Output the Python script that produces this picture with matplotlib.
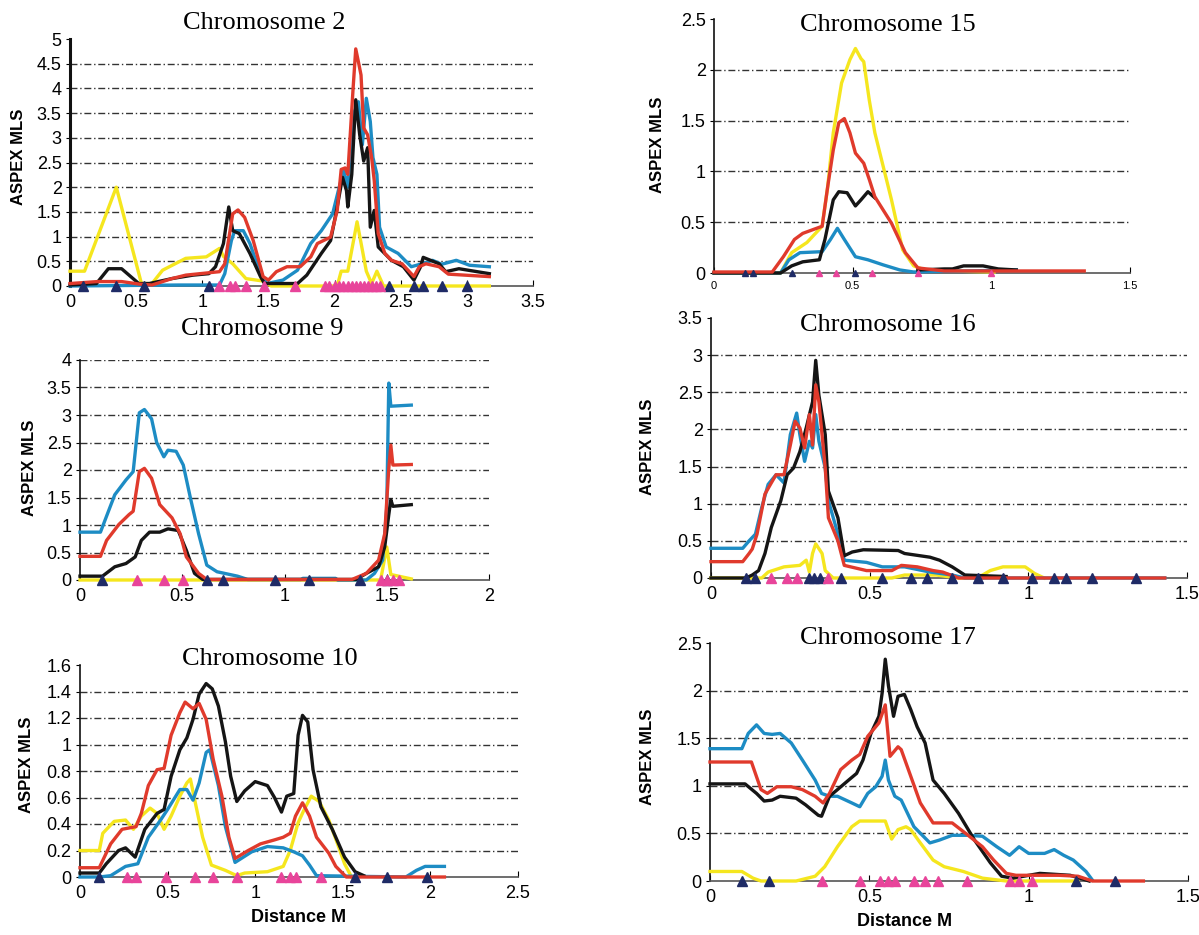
import numpy as np
from matplotlib import pyplot as plt
from matplotlib.ticker import FuncFormatter

W, H = 1199, 935

# curve colours
YEL = "#f5e61e"
BLK = "#151515"
RED = "#e03a2c"
BLU = "#1d8cc4"
NAVY = "#1f2b66"
PINK = "#e8449a"

# ---------------- Chromosome 2
c2_yel_x = [0, 0.11, 0.35, 0.54, 0.62, 0.70, 0.875, 1.03, 1.13, 1.16, 1.23, 1.33, 1.46, 1.52, 2.02, 2.05, 2.1, 2.17, 2.24, 2.28, 2.32, 2.37, 3.17]
c2_yel_y = [0.3, 0.3, 2.0, 0.05, 0.05, 0.32, 0.56, 0.59, 0.76, 0.6, 0.45, 0.15, 0.1, 0, 0, 0.3, 0.3, 1.3, 0.3, 0.05, 0.3, 0, 0]
c2_blu_x = [0, 0.82, 1.13, 1.17, 1.22, 1.245, 1.31, 1.36, 1.44, 1.49, 1.61, 1.72, 1.82, 1.9, 1.985, 2.035, 2.07, 2.10, 2.14, 2.18,
            2.21, 2.24, 2.27, 2.29, 2.32, 2.34, 2.39, 2.48, 2.58, 2.66, 2.74, 2.81, 2.92, 3.02, 3.17]
c2_blu_y = [0, 0.02, 0.02, 0.25, 0.92, 1.12, 1.12, 0.86, 0.25, 0.05, 0.12, 0.32, 0.86, 1.12, 1.46, 2.0, 2.33, 2.0, 3.46, 3.73,
            2.86, 3.8, 3.33, 2.6, 2.26, 1.19, 0.79, 0.66, 0.39, 0.45, 0.52, 0.44, 0.52, 0.42, 0.39]
c2_blk_x = [0, 0.2, 0.29, 0.39, 0.52, 0.6, 0.77, 0.93, 1.05, 1.10, 1.16, 1.20, 1.23, 1.28, 1.36, 1.44, 1.47, 1.72, 1.79, 1.9, 1.97,
            2.02, 2.06, 2.09, 2.10, 2.13, 2.16, 2.19, 2.22, 2.25, 2.27, 2.30, 2.33, 2.43, 2.52, 2.60, 2.65, 2.67, 2.79, 2.84, 2.94, 3.17]
c2_blk_y = [0.02, 0.05, 0.35, 0.35, 0.05, 0.05, 0.15, 0.22, 0.25, 0.39, 0.86, 1.6, 1.12, 1.06, 0.66, 0.19, 0.05, 0.05, 0.22, 0.66, 0.92,
            1.6, 2.2, 1.93, 1.6, 2.26, 3.77, 3.06, 2.53, 2.8, 1.19, 1.53, 0.79, 0.52, 0.39, 0.12, 0.39, 0.58, 0.45, 0.29, 0.35, 0.25]
c2_red_x = [0, 0.21, 0.39, 0.52, 0.62, 0.77, 0.875, 1.13, 1.17, 1.23, 1.27, 1.32, 1.385, 1.46, 1.5, 1.56, 1.64, 1.74, 1.82, 1.87,
            1.97, 2.02, 2.05, 2.08, 2.10, 2.14, 2.16, 2.18, 2.20, 2.22, 2.25, 2.28, 2.30, 2.33, 2.38, 2.43, 2.51, 2.60, 2.64, 2.69,
            2.79, 2.86, 3.17]
c2_red_y = [0.05, 0.09, 0.09, 0.04, 0.02, 0.15, 0.22, 0.29, 0.45, 1.46, 1.54, 1.39, 0.92, 0.19, 0.12, 0.29, 0.39, 0.39, 0.59, 0.86,
            0.99, 1.53, 2.36, 2.39, 2.26, 4.0, 4.8, 4.54, 4.27, 3.2, 3.06, 2.6, 2.13, 1.06, 0.66, 0.52, 0.45, 0.19, 0.39, 0.45,
            0.39, 0.24, 0.19]
c2_navy = [0.10, 0.35, 0.56, 1.05, 2.41, 2.60, 2.67, 2.81, 3.0]
c2_pink = [1.13, 1.21, 1.245, 1.33, 1.47, 1.70, 1.93, 1.96, 2.0, 2.03, 2.06, 2.1, 2.13, 2.16, 2.19, 2.22, 2.25, 2.28, 2.31, 2.34]

# ---------------- Chromosome 9
c9_yel_x = [0, 1.47, 1.50, 1.52, 1.62]
c9_yel_y = [0, 0, 0.6, 0.1, 0.02]
c9_blu_x = [0, 0.10, 0.17, 0.225, 0.26, 0.29, 0.315, 0.35, 0.375, 0.41, 0.43, 0.47, 0.505, 0.54, 0.58, 0.62, 0.67, 0.77, 0.82, 1.08,
            1.09, 1.25, 1.26, 1.40, 1.44, 1.48, 1.50, 1.51, 1.52, 1.62]
c9_blu_y = [0.87, 0.87, 1.55, 1.82, 1.97, 3.04, 3.1, 2.93, 2.5, 2.24, 2.36, 2.34, 2.09, 1.49, 0.84, 0.27, 0.15, 0.07, 0.01, 0.01,
            0.03, 0.03, 0.0, 0.0, 0.12, 0.36, 1.31, 3.58, 3.16, 3.18]
c9_blk_x = [0, 0.11, 0.17, 0.225, 0.27, 0.30, 0.34, 0.39, 0.43, 0.48, 0.52, 0.56, 0.60, 1.35, 1.40, 1.46, 1.49, 1.51, 1.52, 1.53, 1.62]
c9_blk_y = [0.07, 0.07, 0.24, 0.30, 0.42, 0.72, 0.87, 0.87, 0.93, 0.90, 0.54, 0.12, 0.01, 0.01, 0.12, 0.24, 0.6, 1.19, 1.46, 1.34, 1.37]
c9_red_x = [0, 0.10, 0.13, 0.19, 0.24, 0.26, 0.29, 0.315, 0.35, 0.39, 0.45, 0.49, 0.52, 0.58, 0.62, 1.33, 1.40, 1.46, 1.49, 1.51,
            1.52, 1.53, 1.62]
c9_red_y = [0.43, 0.43, 0.72, 1.01, 1.19, 1.25, 1.97, 2.03, 1.85, 1.37, 1.13, 0.84, 0.42, 0.12, 0.01, 0.01, 0.12, 0.36, 0.84, 2.03,
            2.45, 2.09, 2.1]
c9_navy = [0.11, 0.62, 0.70, 0.955, 1.12, 1.37, 1.50]
c9_pink = [0.28, 0.41, 0.505, 1.47, 1.5, 1.53, 1.56]

# ---------------- Chromosome 10
c10_yel_x = [0, 0.11, 0.13, 0.195, 0.26, 0.305, 0.35, 0.40, 0.44, 0.48, 0.52, 0.57, 0.61, 0.63, 0.655, 0.70, 0.75, 0.83, 0.895,
             0.94, 1.07, 1.16, 1.20, 1.245, 1.28, 1.32, 1.365, 1.42, 1.47, 1.51, 1.55]
c10_yel_y = [0.2, 0.2, 0.33, 0.42, 0.43, 0.36, 0.46, 0.52, 0.48, 0.36, 0.46, 0.61, 0.71, 0.74, 0.58, 0.30, 0.09, 0.05, 0.01,
             0.03, 0.04, 0.08, 0.2, 0.41, 0.51, 0.61, 0.57, 0.43, 0.25, 0.10, 0.0]
c10_blu_x = [0, 0.11, 0.175, 0.26, 0.33, 0.39, 0.46, 0.50, 0.57, 0.61, 0.645, 0.68, 0.72, 0.74, 0.79, 0.83, 0.885, 0.98, 1.07,
             1.16, 1.22, 1.27, 1.31, 1.35, 1.86, 1.92, 1.97, 2.08]
c10_blu_y = [0, 0, 0.01, 0.08, 0.10, 0.30, 0.43, 0.51, 0.66, 0.66, 0.58, 0.71, 0.94, 0.96, 0.69, 0.38, 0.11, 0.19, 0.23,
             0.22, 0.19, 0.16, 0.09, 0.01, 0.0, 0.05, 0.08, 0.08]
c10_blk_x = [0, 0.11, 0.15, 0.22, 0.26, 0.315, 0.37, 0.44, 0.48, 0.52, 0.57, 0.61, 0.645, 0.68, 0.72, 0.755, 0.79, 0.83, 0.86,
             0.895, 0.94, 1.0, 1.07, 1.11, 1.15, 1.18, 1.22, 1.245, 1.27, 1.30, 1.33, 1.375, 1.44, 1.51, 1.57, 1.62]
c10_blk_y = [0.03, 0.03, 0.10, 0.20, 0.22, 0.15, 0.36, 0.48, 0.51, 0.76, 0.96, 1.05, 1.19, 1.38, 1.46, 1.42, 1.29, 1.02, 0.76,
             0.57, 0.65, 0.72, 0.69, 0.60, 0.49, 0.61, 0.63, 1.07, 1.22, 1.17, 0.81, 0.53, 0.36, 0.15, 0.04, 0.01]
c10_red_x = [0, 0.11, 0.175, 0.24, 0.32, 0.35, 0.39, 0.44, 0.48, 0.52, 0.57, 0.60, 0.645, 0.68, 0.72, 0.76, 0.81, 0.85, 0.885,
             0.96, 1.03, 1.11, 1.16, 1.20, 1.23, 1.27, 1.31, 1.35, 1.42, 1.46, 1.52, 2.08]
c10_red_y = [0.07, 0.07, 0.25, 0.36, 0.38, 0.48, 0.69, 0.81, 0.82, 1.07, 1.24, 1.32, 1.27, 1.31, 1.19, 0.89, 0.61, 0.30, 0.14,
             0.20, 0.25, 0.28, 0.30, 0.33, 0.46, 0.56, 0.46, 0.30, 0.18, 0.08, 0.0, 0.0]
c10_navy = [0.11, 1.57, 1.75, 1.98]
c10_pink = [0.27, 0.32, 0.49, 0.655, 0.76, 0.895, 1.15, 1.20, 1.235, 1.375]

# ---------------- Chromosome 15
c15_yel_x = [0, 0.24, 0.28, 0.335, 0.39, 0.41, 0.43, 0.46, 0.49, 0.51, 0.53, 0.54, 0.56, 0.58, 0.61, 0.64, 0.68, 0.72, 0.76, 0.83, 1.01]
c15_yel_y = [0, 0, 0.2, 0.30, 0.46, 0.85, 1.38, 1.87, 2.10, 2.21, 2.11, 2.08, 1.70, 1.38, 1.05, 0.72, 0.23, 0.07, 0.03, 0.02, 0.01]
c15_blu_x = [0, 0.24, 0.27, 0.31, 0.39, 0.42, 0.445, 0.47, 0.51, 0.555, 0.61, 0.67, 0.72, 1.09]
c15_blu_y = [0, 0, 0.13, 0.20, 0.21, 0.33, 0.44, 0.33, 0.16, 0.13, 0.08, 0.03, 0.01, 0.03]
c15_blk_x = [0, 0.24, 0.28, 0.32, 0.38, 0.40, 0.43, 0.45, 0.48, 0.51, 0.53, 0.555, 0.58,
             np.nan, 0.735, 0.83, 0.86, 0.90, 0.97, 1.025, 1.09]
c15_blk_y = [0, 0, 0.07, 0.11, 0.13, 0.33, 0.72, 0.80, 0.79, 0.66, 0.72, 0.80, 0.74,
             np.nan, 0.03, 0.04, 0.04, 0.07, 0.07, 0.04, 0.03]
c15_red_x = [0, 0.21, 0.25, 0.29, 0.32, 0.36, 0.39, 0.41, 0.43, 0.45, 0.47, 0.49, 0.51, 0.54, 0.56, 0.58, 0.64, 0.69, 0.735, 0.83, 1.335]
c15_red_y = [0.01, 0.01, 0.16, 0.33, 0.39, 0.43, 0.46, 0.85, 1.21, 1.48, 1.52, 1.38, 1.18, 1.08, 0.92, 0.75, 0.49, 0.20, 0.05, 0.02, 0.02]
c15_navy = [0.11, 0.14, 0.28, 0.51]
c15_pink = [0.38, 0.44, 0.57, 0.735, 1.0]

# ---------------- Chromosome 16
c16_yel_x = [0, 0.16, 0.18, 0.23, 0.28, 0.30, 0.31, 0.32, 0.33, 0.35, 0.36, 0.385, 0.57, 0.61, 0.71, 0.78, 0.84, 0.88, 0.92, 0.99, 1.02, 1.05]
c16_yel_y = [0, 0, 0.08, 0.15, 0.17, 0.24, 0.08, 0.33, 0.46, 0.33, 0.10, 0.0, 0.0, 0.04, 0.04, 0.0, 0.0, 0.10, 0.15, 0.15, 0.06, 0.0]
c16_blu_x = [0, 0.10, 0.12, 0.14, 0.16, 0.18, 0.205, 0.23, 0.25, 0.27, 0.28, 0.295, 0.31, 0.32, 0.33, 0.34, 0.36, 0.37, 0.40,
             0.42, 0.49, 0.54, 0.61, 0.69, 0.76, 0.80, 1.43]
c16_blu_y = [0.4, 0.4, 0.50, 0.59, 0.95, 1.26, 1.39, 1.28, 1.93, 2.22, 1.93, 1.57, 1.84, 1.75, 2.2, 1.84, 1.48, 1.04, 0.59,
             0.24, 0.21, 0.15, 0.15, 0.08, 0.04, 0.0, 0.0]
c16_blk_x = [0, 0.11, 0.13, 0.15, 0.17, 0.19, 0.22, 0.24, 0.26, 0.28, 0.30, 0.32, 0.33, 0.34, 0.36, 0.37, 0.40, 0.42, 0.445,
             0.48, 0.59, 0.61, 0.69, 0.72, 0.76, 0.80, 0.93]
c16_blk_y = [0, 0, 0.04, 0.10, 0.33, 0.68, 1.04, 1.39, 1.48, 1.70, 2.02, 2.37, 2.93, 2.46, 1.93, 1.17, 0.81, 0.30, 0.35,
             0.38, 0.37, 0.33, 0.28, 0.24, 0.15, 0.04, 0.02]
c16_red_x = [0, 0.10, 0.12, 0.13, 0.145, 0.17, 0.19, 0.205, 0.23, 0.25, 0.265, 0.28, 0.295, 0.31, 0.32, 0.33, 0.34, 0.36, 0.37,
             0.40, 0.42, 0.49, 0.57, 0.60, 0.65, 0.70, 0.73, 0.78, 1.43]
c16_red_y = [0.22, 0.22, 0.33, 0.39, 0.59, 1.13, 1.28, 1.39, 1.39, 1.79, 2.11, 2.02, 1.75, 2.2, 1.79, 2.6, 2.37, 1.48, 0.81,
             0.50, 0.17, 0.10, 0.10, 0.17, 0.15, 0.10, 0.08, 0.0, 0.0]
c16_navy = [0.11, 0.14, 0.31, 0.325, 0.345, 0.41, 0.54, 0.63, 0.68, 0.76, 0.84, 0.92, 1.01, 1.08, 1.12, 1.20, 1.34]
c16_pink = [0.19, 0.24, 0.27, 0.37]

# ---------------- Chromosome 17
c17_yel_x = [0, 0.10, 0.135, 0.16, 0.27, 0.33, 0.36, 0.40, 0.445, 0.47, 0.55, 0.57, 0.59, 0.615, 0.63, 0.66, 0.70, 0.735, 0.795,
             0.855, 0.93, 1.155]
c17_yel_y = [0.1, 0.1, 0.03, 0.0, 0.0, 0.05, 0.15, 0.36, 0.57, 0.63, 0.63, 0.44, 0.54, 0.57, 0.54, 0.40, 0.22, 0.15, 0.10,
             0.03, 0.0, 0.0]
c17_blu_x = [0, 0.10, 0.12, 0.146, 0.17, 0.195, 0.22, 0.255, 0.29, 0.33, 0.35, 0.375, 0.40, 0.445, 0.47, 0.495, 0.52, 0.54, 0.55,
             0.56, 0.58, 0.60, 0.64, 0.69, 0.72, 0.76, 0.81, 0.855, 0.90, 0.94, 0.97, 1.0, 1.05, 1.08, 1.11, 1.14, 1.18, 1.20]
c17_blu_y = [1.39, 1.39, 1.55, 1.64, 1.55, 1.54, 1.55, 1.45, 1.27, 1.06, 0.92, 0.89, 0.89, 0.82, 0.78, 0.92, 0.99, 1.10, 1.27,
             1.06, 0.89, 0.85, 0.57, 0.40, 0.43, 0.48, 0.48, 0.47, 0.36, 0.27, 0.36, 0.29, 0.29, 0.33, 0.27, 0.22, 0.10, 0.01]
c17_blk_x = [0, 0.11, 0.146, 0.17, 0.195, 0.22, 0.27, 0.30, 0.34, 0.35, 0.375, 0.40, 0.435, 0.46, 0.48, 0.505, 0.53, 0.54, 0.55,
             0.56, 0.576, 0.59, 0.61, 0.63, 0.65, 0.675, 0.70, 0.735, 0.78, 0.83, 0.88, 0.915, 0.95, 1.035, 1.13, 1.19]
c17_blk_y = [1.02, 1.02, 0.92, 0.84, 0.85, 0.89, 0.87, 0.80, 0.69, 0.68, 0.89, 0.96, 1.06, 1.13, 1.27, 1.55, 1.73, 1.97, 2.33,
             2.05, 1.73, 1.94, 1.96, 1.80, 1.62, 1.45, 1.06, 0.92, 0.71, 0.43, 0.19, 0.05, 0.03, 0.08, 0.06, 0.0]
c17_red_x = [0, 0.13, 0.16, 0.18, 0.21, 0.255, 0.29, 0.33, 0.355, 0.375, 0.41, 0.445, 0.47, 0.495, 0.53, 0.55, 0.565, 0.59, 0.60,
             0.63, 0.66, 0.70, 0.76, 0.81, 0.855, 0.89, 0.93, 0.96, 1.095, 1.155, 1.20, 1.36]
c17_red_y = [1.25, 1.25, 0.96, 0.92, 0.99, 0.99, 0.96, 0.89, 0.82, 0.92, 1.17, 1.27, 1.33, 1.52, 1.66, 1.85, 1.31, 1.41, 1.38,
             1.10, 0.82, 0.61, 0.61, 0.48, 0.36, 0.22, 0.08, 0.06, 0.06, 0.05, 0.0, 0.0]
c17_navy = [0.10, 0.185, 1.15, 1.27]
c17_pink = [0.35, 0.47, 0.535, 0.56, 0.58, 0.64, 0.675, 0.715, 0.805, 0.94, 0.97, 1.01]

plt.rcParams["font.family"] = "Liberation Sans"

fig = plt.figure(figsize=(W / 100, H / 100), dpi=100)
fmt = FuncFormatter(lambda v, p: "%g" % v)


def panel(box, xmax, xstep, ymax, ystep, grid, curves, navy, pink, title, tpos, lpos,
          xlabel=None, xfs=13, msize=7, spw=1.2):
    # box = left, right, top, bottom in pixels
    l, r, t, b = box
    ax = fig.add_axes([l / W, 1 - b / H, (r - l) / W, (b - t) / H])
    ax.set_xlim(0, xmax)
    ax.set_ylim(0, ymax)
    ax.set_xticks(np.arange(0, xmax + 1e-9, xstep))
    ax.set_yticks(np.arange(0, ymax + 1e-9, ystep))
    ax.xaxis.set_major_formatter(fmt)
    ax.yaxis.set_major_formatter(fmt)
    for g in grid:
        ax.axhline(g, color="#333333", lw=1.0, ls=(0, (5, 2, 1, 2)), zorder=1)
    for xs, ys, c in curves:
        ax.plot(xs, ys, color=c, lw=2.4, zorder=3, clip_on=False)
    ax.plot(navy, [0] * len(navy), "^", color=NAVY, ms=msize, zorder=5, clip_on=False)
    ax.plot(pink, [0] * len(pink), "^", color=PINK, ms=msize, zorder=5, clip_on=False)
    for s in ["top", "right"]:
        ax.spines[s].set_visible(False)
    ax.spines["left"].set_linewidth(spw)
    ax.spines["left"].set_color("#111111")
    ax.spines["bottom"].set_color("#555555")
    ax.spines["bottom"].set_linewidth(1.2)
    ax.tick_params(axis="y", direction="out", length=3, labelsize=13, pad=3)
    ax.tick_params(axis="x", direction="in", length=4, labelsize=xfs, pad=6)
    fig.text(tpos[0] / W, 1 - tpos[1] / H, title, family="Liberation Serif", fontsize=19,
             ha="center", va="center")
    fig.text(lpos[0] / W, 1 - lpos[1] / H, "ASPEX MLS", fontsize=12, fontweight="bold",
             rotation=90, ha="center", va="center")
    if xlabel:
        fig.text(xlabel[0] / W, 1 - xlabel[1] / H, "Distance M", fontsize=13, fontweight="bold",
                 ha="center", va="center")
    return ax


panel((70, 533, 39, 286), 3.5, 0.5, 5, 0.5, [0.5, 1, 1.5, 2, 2.5, 3, 3.5, 4, 4.5],
      [(c2_yel_x, c2_yel_y, YEL), (c2_blu_x, c2_blu_y, BLU), (c2_blk_x, c2_blk_y, BLK), (c2_red_x, c2_red_y, RED)],
      c2_navy, c2_pink, "Chromosome 2", (264, 23), (19, 157), spw=2.2)

panel((80, 489, 360, 580), 2, 0.5, 4, 0.5, [0.5, 1, 1.5, 2, 2.5, 3, 3.5, 4],
      [(c9_yel_x, c9_yel_y, YEL), (c9_blu_x, c9_blu_y, BLU), (c9_blk_x, c9_blk_y, BLK), (c9_red_x, c9_red_y, RED)],
      c9_navy, c9_pink, "Chromosome 9", (262, 329), (29, 468))

panel((80, 518, 665, 877), 2.5, 0.5, 1.6, 0.2, [0.2, 0.4, 0.6, 0.8, 1.0, 1.2, 1.4],
      [(c10_yel_x, c10_yel_y, YEL), (c10_blu_x, c10_blu_y, BLU), (c10_blk_x, c10_blk_y, BLK), (c10_red_x, c10_red_y, RED)],
      c10_navy, c10_pink, "Chromosome 10", (270, 659), (27, 765), xlabel=(299, 918))

panel((714, 1130, 19, 273), 1.5, 0.5, 2.5, 0.5, [0.5, 1, 1.5, 2],
      [(c15_yel_x, c15_yel_y, YEL), (c15_blu_x, c15_blu_y, BLU), (c15_blk_x, c15_blk_y, BLK), (c15_red_x, c15_red_y, RED)],
      c15_navy, c15_pink, "Chromosome 15", (888, 25), (657, 145), xfs=8, msize=4)

panel((711, 1187, 318, 578), 1.5, 0.5, 3.5, 0.5, [0.5, 1, 1.5, 2, 2.5, 3],
      [(c16_yel_x, c16_yel_y, YEL), (c16_blu_x, c16_blu_y, BLU), (c16_blk_x, c16_blk_y, BLK), (c16_red_x, c16_red_y, RED)],
      c16_navy, c16_pink, "Chromosome 16", (888, 325), (648, 447))

panel((710, 1188, 643, 881), 1.5, 0.5, 2.5, 0.5, [0.5, 1, 1.5, 2],
      [(c17_yel_x, c17_yel_y, YEL), (c17_blu_x, c17_blu_y, BLU), (c17_blk_x, c17_blk_y, BLK), (c17_red_x, c17_red_y, RED)],
      c17_navy, c17_pink, "Chromosome 17", (888, 638), (648, 757), xlabel=(905, 922))

fig.savefig("out.png", dpi=100)
